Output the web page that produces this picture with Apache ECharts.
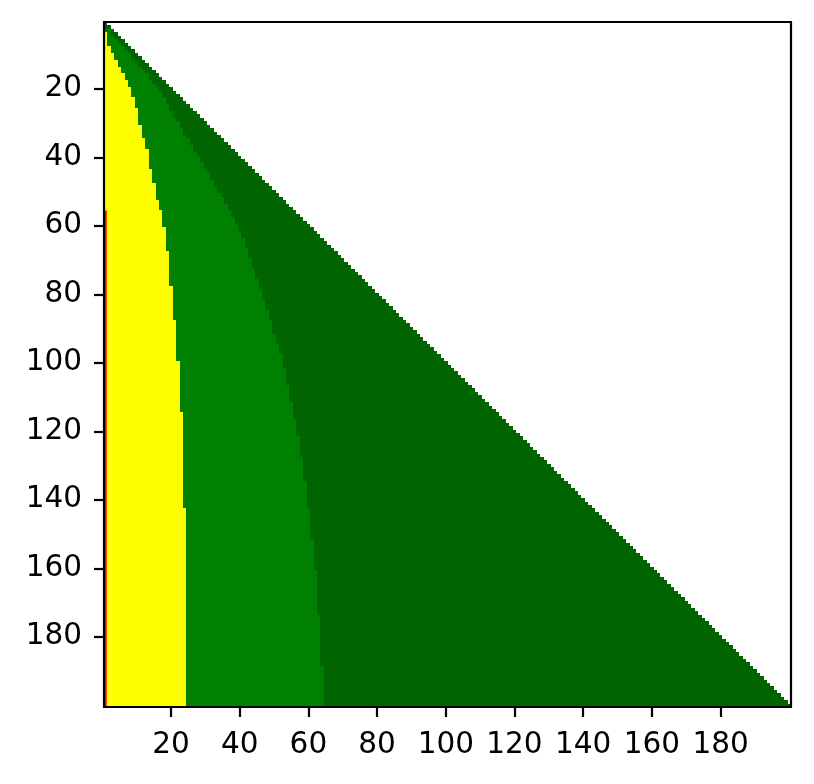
<!DOCTYPE html>
<html>
<head>
<meta charset="utf-8">
<script src="https://cdn.jsdelivr.net/npm/echarts@6/dist/echarts.min.js"></script>
<style>
  html, body { margin: 0; padding: 0; background: #fff; }
  #chart { width: 814px; height: 784px; }
</style>
</head>
<body>
<div id="chart"></div>
<script>
// rows / columns of the triangle (n = row, k = column, k <= n)
const rowCount = 200;

// [first row, last yellow column] - value holds until the next entry
const yellowSteps = [
  [4, 1], [8, 2], [10, 3], [12, 4], [14, 5], [16, 6], [18, 7], [20, 8], [23, 9],
  [26, 10], [31, 11], [35, 12], [38, 13], [44, 14], [48, 15], [53, 16], [56, 17],
  [61, 18], [68, 19], [78, 20], [88, 21], [100, 22], [115, 23], [143, 24]
];

// [first row, last green column]
const greenSteps = [
  [3, 2], [5, 3], [6, 4], [7, 5], [8, 6], [9, 7], [10, 8], [12, 9], [13, 10],
  [14, 11], [15, 12], [16, 13], [18, 14], [19, 15], [20, 16], [21, 17], [23, 18],
  [25, 19], [27, 20], [29, 21], [30, 22], [32, 23], [34, 24], [35, 25], [37, 26],
  [39, 27], [40, 28], [42, 29], [44, 30], [45, 31], [47, 32], [49, 33], [51, 34],
  [52, 35], [54, 36], [56, 37], [58, 38], [60, 39], [62, 40], [64, 41], [67, 42],
  [70, 43], [73, 44], [76, 45], [79, 46], [82, 47], [85, 48], [88, 49], [92, 50],
  [95, 51], [98, 52], [102, 53], [107, 54], [112, 55], [117, 56], [122, 57],
  [128, 58], [135, 59], [143, 60], [152, 61], [161, 62], [174, 63], [189, 64]
];

// red marker at column 1, rows span
const redColumn = 1;
const redSpan = [55.5, 200.5];

const tickLabels = [20, 40, 60, 80, 100, 120, 140, 160, 180];

function stepValue(steps, n) {
  let v = 0;
  for (const [row, val] of steps) {
    if (n >= row) v = val;
  }
  return v;
}

// each item: [x start, x end, row]
const yellowData = [];
const greenData = [];
const darkData = [];
for (let n = 1; n <= rowCount; n++) {
  const y = stepValue(yellowSteps, n);
  const g = Math.max(stepValue(greenSteps, n), y);
  if (y > 0) yellowData.push([0.5, y + 0.5, n]);
  if (g > y) greenData.push([y + 0.5, g + 0.5, n]);
  if (n > g) darkData.push([g + 0.5, n + 0.5, n]);
}

// snap cells to whole pixels so neighbouring rows meet without seams
function renderRow(params, api) {
  const p0 = api.coord([api.value(0), api.value(2) - 0.5]);
  const p1 = api.coord([api.value(1), api.value(2) + 0.5]);
  const x0 = Math.round(p0[0]), x1 = Math.round(p1[0]);
  const y0 = Math.round(p0[1]), y1 = Math.round(p1[1]);
  return {
    type: 'rect',
    shape: { x: x0, y: y0, width: x1 - x0, height: y1 - y0 },
    style: { fill: api.visual('color') }
  };
}

function rowSeries(data, color) {
  return {
    type: 'custom',
    renderItem: renderRow,
    encode: { x: [0, 1], y: 2 },
    itemStyle: { color: color },
    data: data,
    silent: true
  };
}

const fontSize = 29.5;
const axisCommon = {
  min: 0.5,
  max: 200.5,
  z: 10,
  splitLine: { show: false },
  axisLine: { show: true, onZero: false, lineStyle: { color: '#000', width: 2.2 } }
};

const chart = echarts.init(document.getElementById('chart'), null, { renderer: 'canvas' });

chart.setOption({
  animation: false,
  backgroundColor: '#fff',
  grid: { left: 104, right: 23, top: 22, bottom: 77 },
  xAxis: [
    Object.assign({}, axisCommon, {
      type: 'value',
      position: 'bottom',
      axisTick: { show: true, length: 10, customValues: tickLabels, lineStyle: { color: '#000', width: 2.2 } },
      axisLabel: {
        customValues: tickLabels, margin: 23, color: '#000',
        fontSize: fontSize, fontFamily: 'DejaVu Sans'
      }
    }),
    Object.assign({}, axisCommon, {
      type: 'value',
      position: 'top',
      axisTick: { show: false },
      axisLabel: { show: false }
    })
  ],
  yAxis: [
    Object.assign({}, axisCommon, {
      type: 'value',
      inverse: true,
      position: 'left',
      axisTick: { show: true, length: 10, customValues: tickLabels, lineStyle: { color: '#000', width: 2.2 } },
      axisLabel: {
        customValues: tickLabels, margin: 22, color: '#000',
        fontSize: fontSize, fontFamily: 'DejaVu Sans'
      }
    }),
    Object.assign({}, axisCommon, {
      type: 'value',
      inverse: true,
      position: 'right',
      axisTick: { show: false },
      axisLabel: { show: false }
    })
  ],
  series: [
    rowSeries(yellowData, '#ffff00'),
    rowSeries(greenData, '#008000'),
    rowSeries(darkData, '#006400'),
    {
      type: 'line',
      data: [[redColumn, redSpan[0]], [redColumn, redSpan[1]]],
      symbol: 'none',
      lineStyle: { color: '#ff0000', width: 2 },
      z: 5,
      silent: true
    }
  ]
});
</script>
</body>
</html>
